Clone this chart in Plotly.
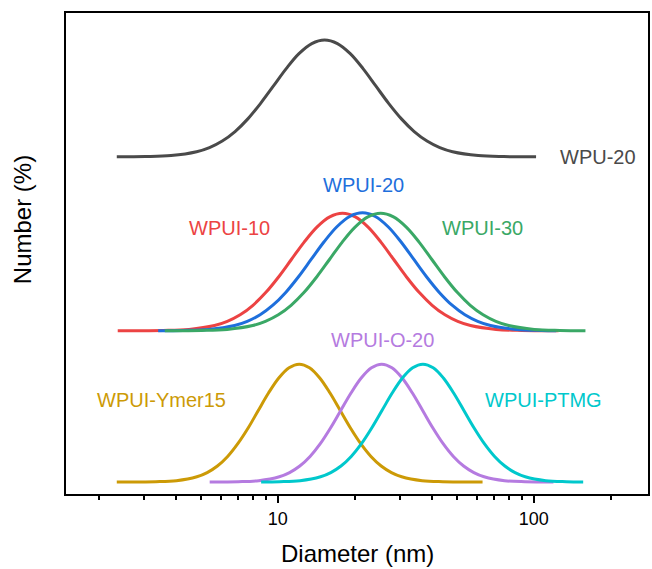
import plotly.graph_objects as go

# Number-weighted size distributions (diameter in nm, Number in %)
wpu20_d = [2.35, 3.04, 3.83, 4.82, 5.41, 6.07, 6.81, 7.64, 8.57, 9.62, 10.79, 12.1, 13.58, 15.24,
           17.10, 19.19, 21.53, 24.15, 27.10, 30.41, 34.12, 38.28, 42.95, 48.19, 60.67, 76.38, 96.16, 102.1]
wpu20_n = [0.0, 0.05, 0.27, 1.07, 1.93, 3.29, 5.26, 7.89, 11.12, 14.74, 18.34, 21.45, 23.55, 24.3,
           23.55, 21.45, 18.34, 14.74, 11.12, 7.89, 5.26, 3.29, 1.93, 1.07, 0.27, 0.05, 0.01, 0.0]

wpui10_d = [2.37, 3.57, 4.50, 5.66, 6.35, 7.13, 8.00, 8.97, 10.07, 11.30, 12.68, 14.22, 15.96, 17.91,
            20.09, 22.54, 25.29, 28.38, 31.84, 35.73, 40.09, 44.98, 50.47, 56.62, 71.29, 89.74, 125.0]
wpui10_n = [0.0, 0.05, 0.27, 1.07, 1.94, 3.30, 5.28, 7.92, 11.17, 14.80, 18.42, 21.53, 23.65, 24.4,
            23.65, 21.53, 18.42, 14.80, 11.17, 7.92, 5.28, 3.30, 1.94, 1.07, 0.27, 0.05, 0.0]

wpui20_d = [3.41, 4.28, 5.38, 6.78, 7.60, 8.53, 9.57, 10.74, 12.05, 13.52, 15.17, 17.02, 19.10, 21.43,
            24.04, 26.98, 30.27, 33.96, 38.11, 42.76, 47.97, 53.83, 60.39, 67.76, 85.31, 107.4, 122.5]
wpui20_n = [0.0, 0.05, 0.27, 1.08, 1.95, 3.31, 5.30, 7.96, 11.22, 14.86, 18.49, 21.62, 23.75, 24.5,
            23.75, 21.62, 18.49, 14.86, 11.22, 7.96, 5.30, 3.31, 1.95, 1.08, 0.27, 0.05, 0.0]

wpui30_d = [3.62, 5.04, 6.34, 7.98, 8.95, 10.05, 11.27, 12.65, 14.19, 15.92, 17.86, 20.04, 22.49, 25.23,
            28.31, 31.77, 35.65, 39.99, 44.87, 50.35, 56.49, 63.39, 71.12, 79.80, 100.5, 126.5, 159.2]
wpui30_n = [0.0, 0.05, 0.27, 1.07, 1.94, 3.30, 5.28, 7.92, 11.17, 14.80, 18.42, 21.53, 23.65, 24.4,
            23.65, 21.53, 18.42, 14.80, 11.17, 7.92, 5.28, 3.30, 1.94, 1.07, 0.27, 0.05, 0.0]

ymer15_d = [2.35, 2.78, 3.34, 4.02, 4.83, 5.30, 5.81, 6.37, 6.98, 7.66, 8.39, 9.20, 10.09, 11.07, 12.13,
            13.30, 14.59, 16.00, 17.54, 19.23, 21.09, 23.12, 25.35, 27.80, 30.48, 36.64, 44.06, 52.97, 63.1]
ymer15_n = [0.0, 0.01, 0.05, 0.27, 1.08, 1.95, 3.31, 5.30, 7.96, 11.22, 14.86, 18.49, 21.62, 23.75, 24.5,
            23.75, 21.62, 18.49, 14.86, 11.22, 7.96, 5.30, 3.31, 1.95, 1.08, 0.27, 0.05, 0.01, 0.0]

o20_d = [5.42, 5.83, 7.01, 8.43, 10.14, 11.12, 12.19, 13.37, 14.66, 16.07, 17.62, 19.32, 21.18, 23.23, 25.47,
         27.92, 30.62, 33.57, 36.81, 40.36, 44.26, 48.53, 53.21, 58.34, 63.97, 76.91, 92.47, 111.2, 119.4]
o20_n = [0.0, 0.01, 0.05, 0.27, 1.08, 1.95, 3.31, 5.30, 7.96, 11.22, 14.86, 18.49, 21.62, 23.75, 24.5,
         23.75, 21.62, 18.49, 14.86, 11.22, 7.96, 5.30, 3.31, 1.95, 1.08, 0.27, 0.05, 0.01, 0.0]

ptmg_d = [8.61, 10.16, 12.22, 14.69, 16.11, 17.66, 19.36, 21.23, 23.28, 25.53, 27.99, 30.69, 33.65, 36.90,
          40.46, 44.36, 48.64, 53.33, 58.48, 64.12, 70.31, 77.09, 84.53, 92.68, 111.4, 134.0, 156.0]
ptmg_n = [0.0, 0.05, 0.27, 1.08, 1.95, 3.31, 5.30, 7.96, 11.22, 14.86, 18.49, 21.62, 23.75, 24.5,
          23.75, 21.62, 18.49, 14.86, 11.22, 7.96, 5.30, 3.31, 1.95, 1.08, 0.27, 0.05, 0.0]

names = ["WPU-20", "WPUI-10", "WPUI-20", "WPUI-30", "WPUI-Ymer15", "WPUI-O-20", "WPUI-PTMG"]
diameters = [wpu20_d, wpui10_d, wpui20_d, wpui30_d, ymer15_d, o20_d, ptmg_d]
numbers = [wpu20_n, wpui10_n, wpui20_n, wpui30_n, ymer15_n, o20_n, ptmg_n]

# vertical stacking offsets of each curve
offsets = [70.1, 33.95, 33.95, 33.95, 2.5, 2.5, 2.5]
colors = ["#4a4a4a", "#ec4343", "#1e6fdc", "#3aa866", "#cc9a06", "#b57be0", "#00c8cc"]

# label anchor points (log10 diameter, stacked y)
label_x = [2.252, 0.811, 1.333, 1.799, 0.546, 1.410, 2.038]
label_y = [70.0, 55.3, 64.3, 55.3, 19.6, 32.0, 19.6]

FONT = "Arial, Liberation Sans, sans-serif"

fig = go.Figure()
for name, d, n, off, col in zip(names, diameters, numbers, offsets, colors):
    fig.add_trace(go.Scatter(
        x=d, y=[v + off for v in n], mode="lines", name=name,
        line=dict(color=col, width=3, shape="spline", smoothing=1.0),
        showlegend=False,
    ))

for name, lx, ly, col in zip(names, label_x, label_y, colors):
    fig.add_annotation(x=lx, y=ly, xref="x", yref="y", text=name, showarrow=False,
                       font=dict(family=FONT, size=20, color=col),
                       xanchor="center", yanchor="middle")

fig.add_annotation(x=0.5, y=-0.123, xref="paper", yref="paper", text="Diameter (nm)",
                   showarrow=False, font=dict(family=FONT, size=24, color="black"),
                   xanchor="center", yanchor="middle")
fig.add_annotation(x=-0.075, y=0.57, xref="paper", yref="paper", text="Number (%)",
                   showarrow=False, textangle=-90,
                   font=dict(family=FONT, size=24, color="black"),
                   xanchor="center", yanchor="middle")

fig.update_layout(
    width=652, height=569,
    margin=dict(l=66, r=2, t=13, b=75),
    plot_bgcolor="white", paper_bgcolor="white",
    font=dict(family=FONT, color="black"),
    xaxis=dict(
        type="log", range=[0.1727, 2.4463],
        showline=True, linecolor="black", linewidth=2, mirror=True,
        showgrid=False, zeroline=False,
        ticks="outside", ticklen=7, tickwidth=1.5, tickcolor="black",
        tickvals=[10, 100], ticktext=["10", "100"],
        tickfont=dict(family=FONT, size=18, color="black"),
        minor=dict(ticks="outside", ticklen=4, tickwidth=1.5, tickcolor="black",
                   tickvals=[2, 3, 4, 5, 6, 7, 8, 9, 20, 30, 40, 50, 60, 70, 80, 90, 200],
                   showgrid=False),
    ),
    yaxis=dict(
        range=[0, 100],
        showline=True, linecolor="black", linewidth=2, mirror=True,
        showgrid=False, zeroline=False, ticks="", showticklabels=False,
    ),
)

fig.write_html("out.html")
